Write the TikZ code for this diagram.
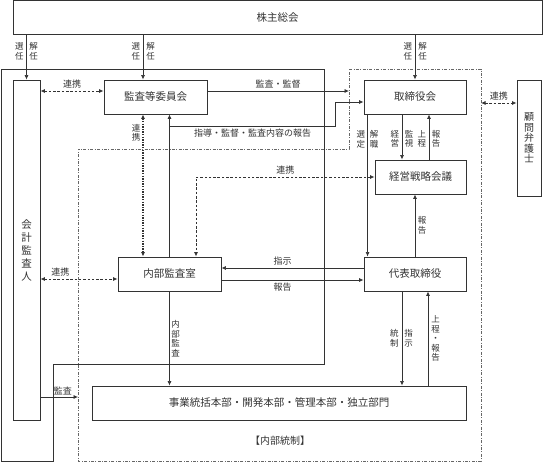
\documentclass[tikz,border=0pt]{standalone}
\usepackage{fontspec}
\setmainfont{Noto Sans CJK JP}
\usetikzlibrary{calc, arrows.meta}
\definecolor{sen}{gray}{0.2}

\tikzset{
  box/.style={draw=sen, line width=0.9pt, rectangle, inner sep=0pt, text=sen,
    font=\fontsize{10.5}{12}\selectfont},
  lbl/.style={inner sep=0pt, text=sen, font=\fontsize{9}{10}\selectfont},
  vlbl/.style={lbl, align=center, font=\fontsize{8.5}{9.5}\selectfont},
  arr/.style={draw=sen, line width=0.7pt, ->},
  link/.style={draw=sen, line width=0.8pt, dash pattern=on 2.5pt off 1.8pt, <->},
  dots/.style={draw=sen, line width=1.3pt, dash pattern=on 1.3pt off 1.3pt, <->},
  zone/.style={draw=sen, line width=0.7pt},
  ctrl/.style={draw=black!60, line width=0.7pt, dash pattern=on 3pt off 1.5pt on 0.8pt off 1.5pt}
}

\begin{document}
\begin{tikzpicture}[x=1pt, y=-1pt, >={Latex[length=4.5pt,width=4pt]}]
  \useasboundingbox (0,0) rectangle (544,462);

  % areas
  \draw[zone] (1,69) -- (324,69) -- (324,364) -- (53,364) -- (53,461) -- (1,461) -- cycle;
  \draw[ctrl] (349,69) -- (481,69) -- (481,461) -- (78,461) -- (78,149) -- (349,149) -- cycle;
  \node[lbl, font=\fontsize{10}{12}\selectfont] (naibutosei) at (280,441) {【内部統制】};

  % boxes
  \node[box, minimum width=529pt, minimum height=34pt] (kabu) at (277.5,17.5) {株主総会};
  \node[box, minimum width=27pt, minimum height=340pt, align=center,
    font=\fontsize{10.5}{13}\selectfont] (kaikei) at (26.5,250) {会\\計\\監\\査\\人};
  \node[box, minimum width=103pt, minimum height=34pt] (kansa) at (155.5,97) {監査等委員会};
  \node[box, minimum width=102pt, minimum height=34pt] (tori) at (415,97) {取締役会};
  \node[box, minimum width=24pt, minimum height=116pt, align=center,
    font=\fontsize{10}{10.5}\selectfont] (komon) at (529,138) {顧\\問\\弁\\護\\士};
  \node[box, minimum width=91pt, minimum height=34pt] (senryaku) at (420.5,177) {経営戦略会議};
  \node[box, minimum width=103pt, minimum height=34pt] (naibu) at (169.5,274) {内部監査室};
  \node[box, minimum width=102pt, minimum height=34pt] (daihyo) at (415,274) {代表取締役};
  \node[box, minimum width=374pt, minimum height=34pt] (jigyo) at (279,403) {事業統括本部・開発本部・管理本部・独立部門};

  % free ends on the internal control frame
  \coordinate (icl) at (349,91);
  \coordinate (icr) at (481,103);
  \coordinate (icb) at (78,397);
  \coordinate (kansaIn) at ($(kansa.north)+(-12.5,0)$);
  \coordinate (kansaL) at ($(kansa.west)+(0,-6)$);
  \coordinate (kansaR) at ($(kansa.east)+(0,-6)$);
  \coordinate (kansaD) at ($(kansa.south)+(-12.5,0)$);
  \coordinate (naibuL) at ($(naibu.west)+(0,5)$);
  \coordinate (toriA) at ($(tori.south west)+(4,0)$);
  \coordinate (toriB) at ($(tori.south)+(-13,0)$);
  \coordinate (toriC) at ($(tori.south)+(14,0)$);
  \coordinate (daihyoA) at ($(daihyo.south)+(-13,0)$);
  \coordinate (daihyoB) at ($(daihyo.south)+(13,0)$);

  % 株主総会
  \draw[arr] (kabu.south -| kaikei.north) -- (kaikei.north)
    node[vlbl, pos=0.37, left=2.5pt] (sen1) {選\\任}
    node[vlbl, pos=0.37, right=2.5pt] (kai1) {解\\任};
  \draw[arr] (kabu.south -| kansaIn) -- (kansaIn)
    node[vlbl, pos=0.37, left=2.5pt] (sen2) {選\\任}
    node[vlbl, pos=0.37, right=3pt] (kai2) {解\\任};
  \draw[arr] (kabu.south -| tori.north) -- (tori.north)
    node[vlbl, pos=0.37, left=2.5pt] (sen3) {選\\任}
    node[vlbl, pos=0.37, right=3pt] (kai3) {解\\任};

  % 監査等委員会
  \draw[link] (kaikei.east |- kansaL) -- (kansaL)
    node[lbl, midway, above=2.5pt] (renkei1) {連携};
  \draw[arr] (kansaR) -- (icl)
    node[lbl, midway, above=2.5pt] (kantoku) {監査・監督};
  \draw[arr] (naibu.north) -- (naibu.north |- kansa.south);
  \draw[arr] ($(naibu.north |- kansa.south)+(0,12)$) -| ($(tori.west)+(-28,5)$)
    node[lbl, pos=0.25, below=2.5pt] (shido) {指導・監督・監査内容の報告}
    -- ($(tori.west)+(0,5)$);
  \draw[dots] (kansaD) -- (kansaD |- naibu.north)
    node[vlbl, pos=0.13, left=2pt] (renkei2) {連\\携};

  % 取締役会
  \draw[arr] (toriA) -- (toriA |- daihyo.north)
    node[vlbl, pos=0.175, left=2pt] (sentei) {選\\定}
    node[vlbl, pos=0.175, right=2pt] (kaishoku) {解\\職};
  \draw[arr] (toriB) -- (toriB |- senryaku.north)
    node[vlbl, pos=0.54, left=2.5pt] (keiei) {経\\営}
    node[vlbl, pos=0.54, right=2.5pt] (kanshi) {監\\視};
  \draw[arr] (toriC |- senryaku.north) -- (toriC)
    node[vlbl, pos=0.46, left=2.5pt] (jotei) {上\\程}
    node[vlbl, pos=0.46, right=2.5pt] (hokoku1) {報\\告};
  \draw[link] (icr) -- (icr -| komon.west)
    node[lbl, midway, above=2.5pt] (renkei3) {連携};

  % 経営戦略会議・代表取締役
  \draw[link] (senryaku.west) -| ($(naibu.north)+(26.5,0)$)
    node[lbl, pos=0.25, above=2.5pt] (renkei4) {連携};
  \draw[arr] (daihyo.north) -- (daihyo.north |- senryaku.south)
    node[vlbl, midway, right=2.5pt] (hokoku2) {報\\告};
  \draw[arr] ($(daihyo.west)+(0,-6)$) -- ($(naibu.east)+(0,-6)$)
    node[lbl, pos=0.57, above=2.5pt] (shiji1) {指示};
  \draw[arr] ($(naibu.east)+(0,6)$) -- ($(daihyo.west)+(0,6)$)
    node[lbl, pos=0.43, below=2.5pt] (hokoku3) {報告};

  % 内部監査室・会計監査人
  \draw[link] (kaikei.east |- naibuL) -- (naibuL)
    node[lbl, pos=0.26, above=2.5pt] (renkei5) {連携};
  \draw[arr] (naibu.south) -- (naibu.south |- jigyo.north)
    node[vlbl, midway, right=1.5pt] (naibukansa) {内\\部\\監\\査};
  \draw[arr] ($(kaikei.east)+(0,147)$) -- (icb)
    node[lbl, pos=0.6, above=2pt] (kansa2) {監査};

  % 代表取締役 → 事業部門
  \draw[arr] (daihyoA) -- (daihyoA |- jigyo.north)
    node[vlbl, midway, left=3pt] (tosei) {統\\制}
    node[vlbl, midway, right=2pt] (shiji2) {指\\示};
  \draw[arr] (daihyoB |- jigyo.north) -- (daihyoB)
    node[vlbl, midway, right=3pt] (jotei2) {上\\程\\・\\報\\告};
\end{tikzpicture}
\end{document}
